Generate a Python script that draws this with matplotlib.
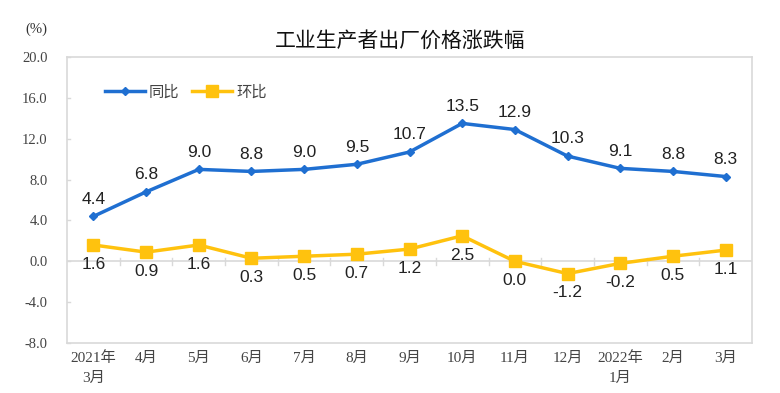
import matplotlib
matplotlib.use("Agg")
import matplotlib.pyplot as plt
from matplotlib.lines import Line2D

categories = ["2021年\n3月", "4月", "5月", "6月", "7月", "8月", "9月", "10月", "11月", "12月", "2022年\n1月", "2月", "3月"]
yoy = [4.4, 6.8, 9.0, 8.8, 9.0, 9.5, 10.7, 13.5, 12.9, 10.3, 9.1, 8.8, 8.3]
mom = [1.6, 0.9, 1.6, 0.3, 0.5, 0.7, 1.2, 2.5, 0.0, -1.2, -0.2, 0.5, 1.1]
yticks = [-8.0, -4.0, 0.0, 4.0, 8.0, 12.0, 16.0, 20.0]

BLUE = "#1F6FD1"
YELLOW = "#FFC20E"
serif = ["Liberation Serif", "Noto Sans CJK SC"]
sans = ["Liberation Sans", "Noto Sans CJK SC"]

fig = plt.figure(figsize=(7.8, 3.93), dpi=100)
ax = fig.add_axes([0.086, 0.127, 0.878, 0.728])
x = list(range(len(categories)))

ax.plot(x, yoy, color=BLUE, lw=2.5, marker="D", ms=3.8, mfc=BLUE, mec=BLUE, zorder=3)
ax.plot(x, mom, color=YELLOW, lw=2.5, marker="s", ms=8, mfc=YELLOW, mec=YELLOW, zorder=3)

for xi, v in zip(x, yoy):
    ax.annotate(f"{v:.1f}", (xi, v), xytext=(0, 7), textcoords="offset points",
                ha="center", va="bottom", fontsize=12.5, family=sans, color="#222222")
for xi, v in zip(x, mom):
    ax.annotate(f"{v:.1f}", (xi, v), xytext=(0, -8.5), textcoords="offset points",
                ha="center", va="top", fontsize=12.5, family=sans, color="#222222")

ax.set_xlim(-0.5, len(categories) - 0.5)
ax.set_ylim(-8, 20)
ax.set_yticks(yticks)
ax.set_yticklabels([f"{t:.1f}" for t in yticks], family=serif, fontsize=10.5, color="#444444")
ax.set_xticks(x)
ax.set_xticklabels(categories, family=serif, fontsize=11, color="#444444", linespacing=1.65)
ax.tick_params(axis="y", length=0, pad=14)
ax.tick_params(axis="x", length=0, pad=6)
for s in ax.spines.values():
    s.set_color("#D9D9D9")
    s.set_linewidth(1.2)

# zero line with small category ticks
ax.axhline(0, color="#D9D9D9", lw=1.2, zorder=1)
for b in [i + 0.5 for i in range(len(categories) - 1)]:
    ax.plot([b, b], [-0.35, 0.35], color="#D9D9D9", lw=1, zorder=1)
# y axis small tick marks
for t in yticks:
    ax.plot([-0.5, -0.45], [t, t], color="#D9D9D9", lw=1, clip_on=False, zorder=1)

handles = [
    Line2D([], [], color=BLUE, lw=2.5, marker="D", ms=3.8),
    Line2D([], [], color=YELLOW, lw=2.5, marker="s", ms=8),
]
leg = ax.legend(handles, ["同比", "环比"], loc="upper left", bbox_to_anchor=(0.035, 0.955),
                ncol=2, frameon=False, prop={"family": "Noto Sans CJK SC", "size": 11},
                handlelength=2.6, columnspacing=0.8, handletextpad=0.3)
for t in leg.get_texts():
    t.set_color("#444444")

fig.text(0.513, 0.897, "工业生产者出厂价格涨跌幅", ha="center", va="center",
         fontsize=15, family="Noto Sans CJK SC", fontweight="medium", color="#111111")
fig.text(0.047, 0.925, "(%)", ha="center", va="center", fontsize=10.5, family=serif, color="#333333")

fig.savefig("out.png", dpi=100)
